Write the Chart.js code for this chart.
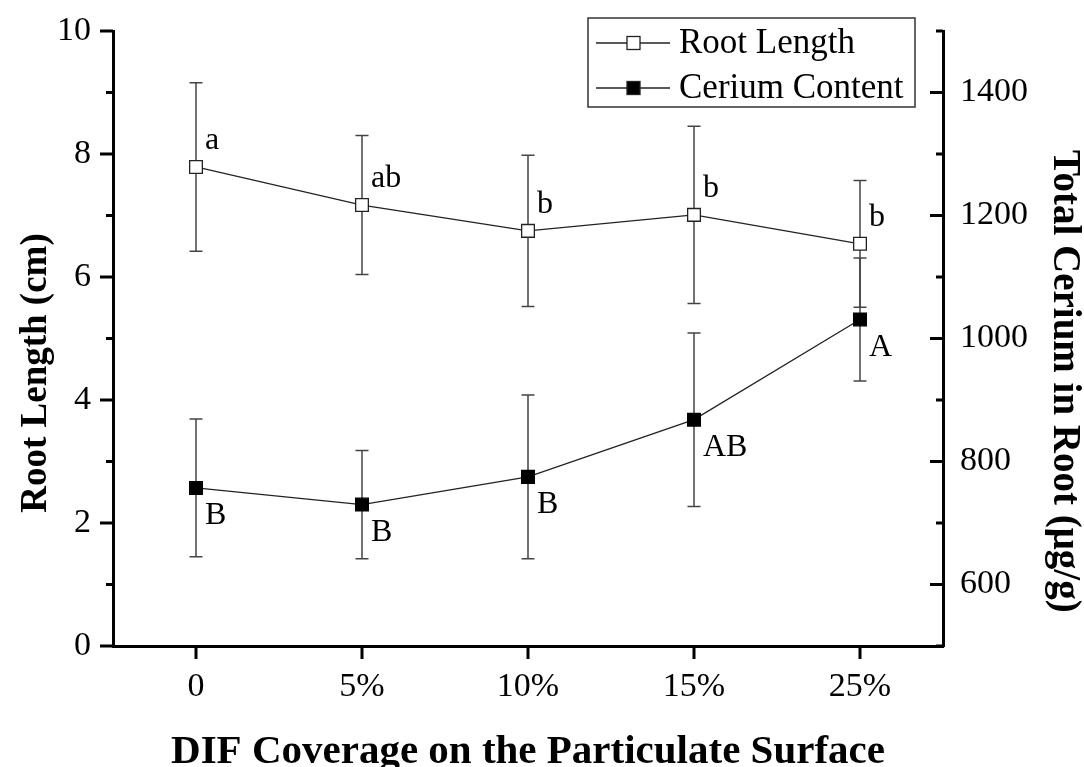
<!DOCTYPE html>
<html lang="en">
<head>
<meta charset="UTF-8">
<title>Root Length and Cerium Content vs DIF Coverage</title>
<script src="https://cdn.jsdelivr.net/npm/chart.js"></script>
<style>
body { margin: 0; background: #fff; }
#wrap { width: 1084px; height: 767px; }
</style>
</head>
<body>
<div id="wrap"><canvas id="chart" width="1084" height="767"></canvas></div>
<script>
// data
const coverage = ['0', '5%', '10%', '15%', '25%'];
const rootLength = [7.79, 7.17, 6.75, 7.01, 6.54];
const rootLengthErr = [1.37, 1.13, 1.23, 1.44, 1.03];
const rootLetters = ['a', 'ab', 'b', 'b', 'b'];
const cerium = [757, 730, 775, 868, 1031];
const ceriumErr = [112, 88, 133, 141, 100];
const ceriumLetters = ['B', 'B', 'B', 'AB', 'A'];
const leftTicks = [0, 2, 4, 6, 8, 10];
const leftMinor = [1, 3, 5, 7, 9];
const rightTicks = [600, 800, 1000, 1200, 1400];
const rightMinor = [500, 700, 900, 1100, 1300, 1500];

const SERIF = '"Liberation Serif", "Times New Roman", serif';

const toPoints = arr => arr.map((v, i) => ({ x: i, y: v }));

// error bars, drawn under the markers
const errorBars = {
    id: 'errorBars',
    beforeDatasetsDraw(chart) {
        const ctx = chart.ctx;
        ctx.save();
        ctx.strokeStyle = '#444';
        ctx.lineWidth = 1.5;
        chart.data.datasets.forEach((ds, i) => {
            const meta = chart.getDatasetMeta(i);
            const scale = chart.scales[ds.yAxisID];
            meta.data.forEach((pt, j) => {
                const v = ds.data[j].y, e = ds.errors[j];
                const top = scale.getPixelForValue(v + e);
                const bot = scale.getPixelForValue(v - e);
                ctx.beginPath();
                ctx.moveTo(pt.x, top); ctx.lineTo(pt.x, bot);
                ctx.moveTo(pt.x - 6.5, top); ctx.lineTo(pt.x + 6.5, top);
                ctx.moveTo(pt.x - 6.5, bot); ctx.lineTo(pt.x + 6.5, bot);
                ctx.stroke();
            });
        });
        ctx.restore();
    }
};

// significance letters next to the points
const letters = {
    id: 'letters',
    afterDatasetsDraw(chart) {
        const ctx = chart.ctx;
        ctx.save();
        ctx.fillStyle = '#000';
        ctx.font = '32px ' + SERIF;
        ctx.textAlign = 'left';
        ctx.textBaseline = 'middle';
        chart.data.datasets.forEach((ds, i) => {
            const meta = chart.getDatasetMeta(i);
            const dy = ds.lettersBelow ? 28 : -26;
            meta.data.forEach((pt, j) => {
                ctx.fillText(ds.letters[j], pt.x + 9, pt.y + dy);
            });
        });
        ctx.restore();
    }
};

// Origin-style ticks: left/bottom outward, right inward
const tickMarks = {
    id: 'tickMarks',
    afterDraw(chart) {
        const { ctx, scales: { x, y, y1 } } = chart;
        ctx.save();
        ctx.strokeStyle = '#000';
        ctx.lineWidth = 3;
        ctx.beginPath();
        leftTicks.forEach(v => { const p = y.getPixelForValue(v); ctx.moveTo(y.right - 13, p); ctx.lineTo(y.right, p); });
        leftMinor.forEach(v => { const p = y.getPixelForValue(v); ctx.moveTo(y.right - 7, p); ctx.lineTo(y.right, p); });
        rightTicks.forEach(v => { const p = y1.getPixelForValue(v); ctx.moveTo(y1.left - 13, p); ctx.lineTo(y1.left, p); });
        rightMinor.forEach(v => { const p = y1.getPixelForValue(v); ctx.moveTo(y1.left - 7, p); ctx.lineTo(y1.left, p); });
        coverage.forEach((c, i) => { const p = x.getPixelForValue(i); ctx.moveTo(p, x.top); ctx.lineTo(p, x.top + 13); });
        ctx.stroke();
        ctx.restore();
    }
};

// axis titles
const axisTitles = {
    id: 'axisTitles',
    afterDraw(chart) {
        const { ctx, chartArea } = chart;
        ctx.save();
        ctx.fillStyle = '#000';
        ctx.font = 'bold 41px ' + SERIF;
        ctx.textAlign = 'center';
        ctx.textBaseline = 'alphabetic';
        ctx.fillText('DIF Coverage on the Particulate Surface', (chartArea.left + chartArea.right) / 2, 763);

        ctx.font = 'bold 37px ' + SERIF;
        ctx.textBaseline = 'middle';
        ctx.save();
        ctx.translate(36, 373);
        ctx.rotate(-Math.PI / 2);
        ctx.fillText('Root Length (cm)', 0, 0);
        ctx.restore();

        ctx.save();
        ctx.font = 'bold 39px ' + SERIF;
        ctx.translate(1064, 150);
        ctx.rotate(Math.PI / 2);
        ctx.textAlign = 'left';
        ctx.fillText('Total Cerium in Root (\u03bcg/g)', 0, 0);
        ctx.restore();
        ctx.restore();
    }
};

// boxed legend with line + marker samples
const boxLegend = {
    id: 'boxLegend',
    afterDraw(chart) {
        const ctx = chart.ctx;
        const box = { x: 588, y: 18, w: 327, h: 89 };
        ctx.save();
        ctx.fillStyle = '#fff';
        ctx.fillRect(box.x, box.y, box.w, box.h);
        ctx.strokeStyle = '#333';
        ctx.lineWidth = 1.5;
        ctx.strokeRect(box.x, box.y, box.w, box.h);
        chart.data.datasets.forEach((ds, i) => {
            const cy = box.y + 25 + i * 45;
            ctx.strokeStyle = '#222';
            ctx.lineWidth = 1.3;
            ctx.beginPath();
            ctx.moveTo(box.x + 8, cy); ctx.lineTo(box.x + 82, cy);
            ctx.stroke();
            ctx.fillStyle = ds.pointBackgroundColor;
            ctx.fillRect(box.x + 39, cy - 6.5, 13, 13);
            ctx.strokeRect(box.x + 39, cy - 6.5, 13, 13);
            ctx.fillStyle = '#000';
            ctx.font = '35px ' + SERIF;
            ctx.textAlign = 'left';
            ctx.textBaseline = 'middle';
            ctx.fillText(ds.label, box.x + 91, cy + 1);
        });
        ctx.restore();
    }
};

// keep the plot box where the figure has it
const noEdgePad = s => { s.paddingTop = 0; s.paddingBottom = 0; s.paddingLeft = 0; s.paddingRight = 0; };

new Chart(document.getElementById('chart'), {
    type: 'line',
    data: {
        datasets: [{
            label: 'Root Length',
            data: toPoints(rootLength),
            errors: rootLengthErr,
            letters: rootLetters,
            lettersBelow: false,
            yAxisID: 'y',
            borderColor: '#222',
            borderWidth: 1.3,
            pointStyle: 'rect',
            pointRadius: 9,
            pointBorderWidth: 1.3,
            pointBorderColor: '#222',
            pointBackgroundColor: '#fff',
            tension: 0
        }, {
            label: 'Cerium Content',
            data: toPoints(cerium),
            errors: ceriumErr,
            letters: ceriumLetters,
            lettersBelow: true,
            yAxisID: 'y1',
            borderColor: '#222',
            borderWidth: 1.3,
            pointStyle: 'rect',
            pointRadius: 9,
            pointBorderWidth: 1.3,
            pointBorderColor: '#000',
            pointBackgroundColor: '#000',
            tension: 0
        }]
    },
    options: {
        responsive: false,
        animation: false,
        layout: { padding: { top: 31, left: 0, right: 0, bottom: 0 } },
        plugins: { legend: { display: false }, tooltip: { enabled: false } },
        scales: {
            x: {
                type: 'linear',
                min: -0.5,
                max: 4.5,
                afterBuildTicks: s => { s.ticks = coverage.map((c, i) => ({ value: i })); },
                afterFit: s => { s.height = 121; noEdgePad(s); },
                grid: { display: false, drawTicks: false },
                border: { display: true, color: '#000', width: 3 },
                ticks: {
                    padding: 21,
                    color: '#000',
                    font: { family: SERIF, size: 34 },
                    callback: v => coverage[v]
                }
            },
            y: {
                position: 'left',
                min: 0,
                max: 10,
                afterBuildTicks: s => { s.ticks = leftTicks.map(v => ({ value: v })); },
                afterFit: s => { s.width = 113; noEdgePad(s); },
                grid: { display: false, drawTicks: false },
                border: { display: true, color: '#000', width: 3 },
                ticks: { padding: 22, color: '#000', font: { family: SERIF, size: 34 }, callback: v => String(v) }
            },
            y1: {
                position: 'right',
                min: 500,
                max: 1500,
                afterBuildTicks: s => { s.ticks = rightTicks.map(v => ({ value: v })); },
                afterFit: s => { s.width = 141; noEdgePad(s); },
                grid: { display: false, drawTicks: false },
                border: { display: true, color: '#000', width: 3 },
                ticks: { padding: 17, color: '#000', font: { family: SERIF, size: 34 }, callback: v => String(v) }
            }
        }
    },
    plugins: [errorBars, letters, tickMarks, axisTitles, boxLegend]
});
</script>
</body>
</html>
